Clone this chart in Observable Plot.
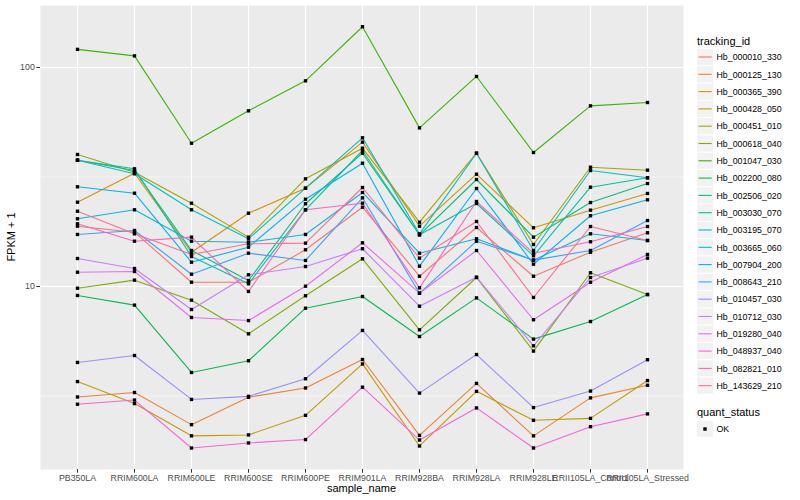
<!DOCTYPE html>
<html><head><meta charset="utf-8">
<script src="https://cdn.jsdelivr.net/npm/d3@7"></script>
<script src="https://cdn.jsdelivr.net/npm/@observablehq/plot@0.6"></script>
<style>
body{margin:0;background:#fff;font-family:"Liberation Sans",Arial,sans-serif;}
#wrap{position:relative;width:800px;height:500px;display:flex;}
#chart{width:690px;height:500px;}
#legend{width:110px;height:500px;}
</style></head><body><div id="wrap"><div id="chart"></div><div id="legend"></div></div>
<script>
const samples = ["PB350LA","RRIM600LA","RRIM600LE","RRIM600SE","RRIM600PE","RRIM901LA","RRIM928BA","RRIM928LA","RRIM928LE","RRII105LA_Control","RRII105LA_Stressed"];
const trackingIds = ["Hb_000010_330","Hb_000125_130","Hb_000365_390","Hb_000428_050","Hb_000451_010","Hb_000618_040","Hb_001047_030","Hb_002200_080","Hb_002506_020","Hb_003030_070","Hb_003195_070","Hb_003665_060","Hb_007904_200","Hb_008643_210","Hb_010457_030","Hb_010712_030","Hb_019280_040","Hb_048937_040","Hb_082821_010","Hb_143629_210"];
const colors = ["#F8766D","#EA8331","#D89000","#C09B00","#A3A500","#7CAE00","#39B600","#00BB4E","#00BF7D","#00C1A3","#00BFC4","#00BAE0","#00B0F6","#35A2FF","#9590FF","#C77CFF","#E76BF3","#FA62DB","#FF62BC","#FF6C91"];
const quantStatus = ["OK"];

// FPKM + 1 per sample, one array per tracking_id
const hb_000010_330 = [18.85,17.70,10.46,10.46,14.71,23.02,11.14,18.60,11.14,14.34,17.59];
const hb_000125_130 = [3.13,3.28,2.34,3.12,3.44,4.64,2.09,3.61,2.08,3.10,3.54];
const hb_000365_390 = [24.26,32.91,14.34,21.61,28.11,45.60,18.85,32.57,18.54,22.31,26.59];
const hb_000428_050 = [3.68,2.92,2.08,2.10,2.58,4.43,1.87,3.32,2.45,2.50,3.72];
const hb_000451_010 = [40.06,33.25,24.01,16.80,31.02,42.81,19.66,40.61,15.55,35.05,33.97];
const hb_000618_040 = [9.82,10.69,8.66,6.08,9.07,13.38,6.34,10.99,5.07,11.55,9.19];
const hb_001047_030 = [121.0,113.0,45.1,63.4,86.9,153.5,53.0,91.0,40.9,66.8,69.2];
const hb_002200_080 = [9.10,8.22,4.05,4.58,7.96,9.00,5.91,8.87,5.75,6.92,9.19];
const hb_002506_020 = [37.73,33.86,14.60,10.65,23.86,40.61,17.22,30.80,16.80,24.18,29.53];
const hb_003030_070 = [37.73,34.47,13.71,10.29,22.40,41.78,17.22,23.93,13.81,28.41,31.35];
const hb_003195_070 = [37.73,32.70,22.40,16.51,28.11,47.75,17.40,40.61,14.60,33.86,31.35];
const hb_003665_060 = [20.38,22.40,16.10,15.93,17.28,26.87,14.19,16.51,13.19,17.40,16.22];
const hb_007904_200 = [28.53,26.67,12.91,15.12,25.04,36.56,12.38,28.02,12.64,21.03,24.88];
const hb_008643_210 = [17.28,18.02,11.38,14.19,13.15,25.41,9.32,16.10,13.19,14.60,20.01];
const hb_010457_030 = [4.50,4.84,3.05,3.15,3.79,6.30,3.26,4.89,2.80,3.33,4.63];
const hb_010712_030 = [13.42,12.08,7.85,11.31,12.34,14.87,8.13,11.03,5.36,10.99,13.47];
const hb_019280_040 = [11.62,11.71,7.22,6.99,10.03,15.83,9.32,14.60,7.05,10.46,14.00];
const hb_048937_040 = [2.90,3.03,1.83,1.93,2.00,3.47,1.99,2.79,1.83,2.29,2.62];
const hb_082821_010 = [19.33,16.10,16.80,9.49,22.40,24.01,9.86,24.44,14.19,16.00,18.79];
const hb_143629_210 = [22.07,17.40,14.00,15.67,15.77,28.32,13.47,19.81,8.91,18.79,16.22];

const seriesValues = [hb_000010_330,hb_000125_130,hb_000365_390,hb_000428_050,hb_000451_010,hb_000618_040,hb_001047_030,hb_002200_080,hb_002506_020,hb_003030_070,hb_003195_070,hb_003665_060,hb_007904_200,hb_008643_210,hb_010457_030,hb_010712_030,hb_019280_040,hb_048937_040,hb_082821_010,hb_143629_210];

const rows = [];
seriesValues.forEach((vals, i) => vals.forEach((v, j) => rows.push({id: trackingIds[i], sample: samples[j], value: v, status: "OK"})));

const font = "Liberation Sans, Arial, Helvetica, sans-serif";
const plot = Plot.plot({
  width: 690, height: 500,
  marginLeft: 40, marginRight: 7, marginTop: 5, marginBottom: 31,
  style: {fontFamily: font, background: "transparent", overflow: "visible"},
  x: {type: "point", domain: samples, padding: 0.6, label: null},
  y: {type: "log", domain: [1.46, 191.9], label: null},
  color: {domain: trackingIds, range: colors},
  marks: [
    Plot.frame({fill: "#EBEBEB", stroke: "none"}),
    Plot.ruleY([3.1623, 31.623], {stroke: "#ffffff", strokeWidth: 0.55}),
    Plot.ruleY([10, 100], {stroke: "#ffffff", strokeWidth: 1.1}),
    Plot.ruleX(samples, {stroke: "#ffffff", strokeWidth: 1.1}),
    Plot.line(rows, {x: "sample", y: "value", stroke: "id", z: "id", strokeWidth: 1.1}),
    Plot.dot(rows, {x: "sample", y: "value", symbol: "square", r: 1.9, fill: "#000000", stroke: "none"}),
    Plot.axisX({tickSize: 3.7, tickPadding: 1.5, fontSize: 8.8, fill: "#4D4D4D", stroke: "#333333", label: null}),
    Plot.axisY({ticks: [10, 100], tickFormat: d => String(d), tickSize: 3.7, tickPadding: 2, fontSize: 8.8, fill: "#4D4D4D", stroke: "#333333", label: null})
  ]
});
document.getElementById("chart").appendChild(plot);

const svg = d3.select(plot);
svg.append("text").attr("x", 361.5).attr("y", 492).attr("text-anchor", "middle")
  .attr("font-size", 11).attr("font-family", font).attr("fill", "#000").text("sample_name");
svg.append("text").attr("transform", "translate(15,237) rotate(-90)").attr("text-anchor", "middle")
  .attr("font-size", 11).attr("font-family", font).attr("fill", "#000").text("FPKM + 1");

// legend
const lg = d3.select("#legend").append("svg").attr("width", 110).attr("height", 500)
  .attr("font-family", font);
lg.append("text").attr("x", 7).attr("y", 44.5).attr("font-size", 11).attr("fill", "#000").text("tracking_id");
trackingIds.forEach((id, i) => {
  const cy = 57 + 17.3 * i;
  lg.append("rect").attr("x", 7).attr("y", cy - 8.1).attr("width", 16.2).attr("height", 16.2).attr("fill", "#F2F2F2");
  lg.append("line").attr("x1", 8.5).attr("x2", 21.7).attr("y1", cy).attr("y2", cy)
    .attr("stroke", colors[i]).attr("stroke-width", 1.1);
  lg.append("text").attr("x", 26.5).attr("y", cy + 3.2).attr("font-size", 8.8).attr("fill", "#000").text(id);
});
lg.append("text").attr("x", 7).attr("y", 416).attr("font-size", 11).attr("fill", "#000").text("quant_status");
quantStatus.forEach((s, i) => {
  const cy = 429 + 17.3 * i;
  lg.append("rect").attr("x", 7).attr("y", cy - 8.1).attr("width", 16.2).attr("height", 16.2).attr("fill", "#F2F2F2");
  lg.append("rect").attr("x", 13.3).attr("y", cy - 1.7).attr("width", 3.4).attr("height", 3.4).attr("fill", "#000");
  lg.append("text").attr("x", 26.5).attr("y", cy + 3.2).attr("font-size", 8.8).attr("fill", "#000").text(s);
});
</script></body></html>
